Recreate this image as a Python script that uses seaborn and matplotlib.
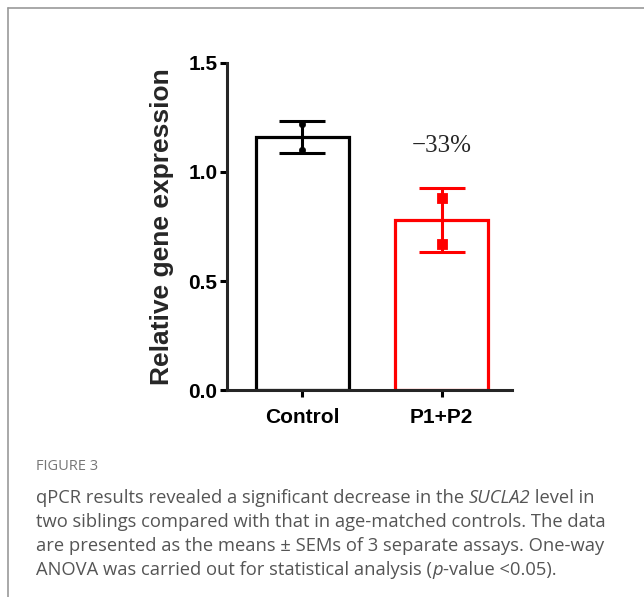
import numpy as np
import pandas as pd
import matplotlib
matplotlib.use("Agg")
import matplotlib.pyplot as plt
import seaborn as sns
from matplotlib.lines import Line2D

# ============================================================
# 1. DATA
# ============================================================
groups = ["Control", "P1+P2"]
means = [1.16, 0.78]
sems = [0.075, 0.145]
control_points = [1.22, 1.10]
patient_points = [0.88, 0.67]
edge_colors = ["black", "#ff0000"]
y_ticks = [0.0, 0.5, 1.0, 1.5]
y_label = "Relative gene expression"
change_label = "\u221233%"

caption_title = "FIGURE 3"
# each line is a list of (text, italic) pieces
caption_lines = [
    [("qPCR results revealed a significant decrease in the ", False), ("SUCLA2", True),
     (" level in", False)],
    [("two siblings compared with that in age-matched controls. The data", False)],
    [("are presented as the means \u00b1 SEMs of 3 separate assays. One-way", False)],
    [("ANOVA was carried out for statistical analysis (", False), ("p", True),
     ("-value <0.05).", False)],
]

# ============================================================
# 2. STYLE
# ============================================================
sns.set_style("ticks")
plt.rcParams["font.family"] = ["Liberation Sans", "DejaVu Sans"]

fig = plt.figure(figsize=(6.44, 5.97), dpi=100)
ax = fig.add_axes([0.3525, 0.3467, 0.4425, 0.5478])

# ============================================================
# 3. BARS, ERROR BARS, POINTS
# ============================================================
df = pd.DataFrame({"group": groups, "mean": means})
sns.barplot(data=df, x="group", y="mean", color="white", width=0.67,
            linewidth=2.3, errorbar=None, ax=ax)
for patch, col in zip(ax.patches, edge_colors):
    patch.set_edgecolor(col)
    patch.set_facecolor("white")

for i, (m, s, col) in enumerate(zip(means, sems, edge_colors)):
    ax.errorbar(i, m, yerr=s, fmt="none", ecolor=col, elinewidth=2.2,
                capsize=16.5, capthick=2.2, zorder=4)

sns.scatterplot(x=[0] * len(control_points), y=control_points, color="black",
                marker="o", s=22, edgecolor="black", zorder=5, ax=ax)
sns.scatterplot(x=[1] * len(patient_points), y=patient_points, color="#ff0000",
                marker="s", s=55, edgecolor="#ff0000", zorder=5, ax=ax)

ax.text(1, 1.12, change_label, ha="center", va="center", fontsize=18,
        family=["Liberation Serif", "DejaVu Serif"])

# ============================================================
# 4. AXES
# ============================================================
ax.set_xlim(-0.543, 1.507)
ax.set_ylim(0, 1.5)
ax.set_yticks(y_ticks)
ax.set_yticklabels([f"{t:.1f}" for t in y_ticks], fontsize=15, fontweight="bold")
ax.set_xticks([0, 1])
ax.set_xticklabels(groups, fontsize=15, fontweight="bold")
ax.set_xlabel("")
ax.set_ylabel(y_label, fontsize=19, fontweight="bold", labelpad=10)
sns.despine(ax=ax)
for sp in ["left", "bottom"]:
    ax.spines[sp].set_linewidth(2.2)
ax.tick_params(axis="both", width=2.2, length=5, colors="black")
ax.tick_params(axis="x", pad=8)
ax.tick_params(axis="y", pad=2)

# ============================================================
# 5. FRAME + CAPTION
# ============================================================
fig.add_artist(Line2D([8 / 644, 1], [1 - 8 / 597, 1 - 8 / 597], color="#999999", lw=1.2))
fig.add_artist(Line2D([8 / 644, 8 / 644], [0, 1 - 8 / 597], color="#999999", lw=1.2))

fig.text(36 / 644, 1 - 467 / 597, caption_title, fontsize=10.5, color="#777777",
         family=["Open Sans", "DejaVu Sans"], va="center")

renderer = fig.canvas.get_renderer()
for k, pieces in enumerate(caption_lines):
    x = 36 / 644
    y = 1 - (498 + 24 * k) / 597
    for txt, italic in pieces:
        t = fig.text(x, y, txt, fontsize=13.2, color="#555555",
                     family=["Open Sans", "DejaVu Sans"], va="center",
                     style="italic" if italic else "normal")
        bb = t.get_window_extent(renderer=renderer)
        x += bb.width / fig.bbox.width

fig.savefig("out.png", dpi=100)
